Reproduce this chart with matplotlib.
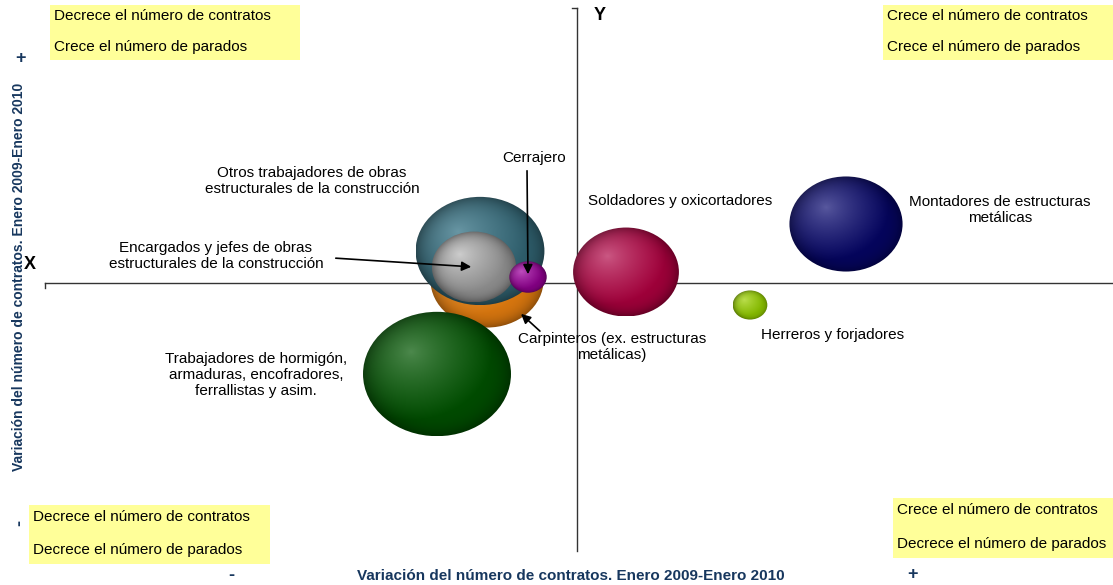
import matplotlib
matplotlib.use("Agg")
import matplotlib.pyplot as plt
import numpy as np
from matplotlib.patches import Ellipse, Rectangle
from matplotlib.colors import to_rgb

plt.rcParams['font.family'] = ['Liberation Sans', 'DejaVu Sans']

# datos: variacion de contratos (x), variacion de parados (y), tamano burbuja
ocupaciones = ["Carpinteros (ex. estructuras\nmetálicas)",
               "Otros trabajadores de obras\nestructurales de la construcción",
               "Encargados y jefes de obras\nestructurales de la construcción",
               "Cerrajero",
               "Trabajadores de hormigón,\narmaduras, encofradores,\nferrallistas y asim.",
               "Soldadores y oxicortadores",
               "Montadores de estructuras\nmetálicas",
               "Herreros y forjadores"]
var_contratos = [-9.0, -9.7, -10.3, -4.9, -14.0, 4.9, 26.9, 17.3]
var_parados = [0.3, 3.2, 1.6, 0.6, -9.1, 1.1, 5.9, -2.2]
tamanos = [128, 166, 71, 14, 219, 112, 128, 12]

colores_base = ["#d9770f", "#2f5f6d", "#8c8c8c", "#820082", "#004c00",
                "#a0003a", "#05055e", "#84b800"]
colores_luz = ["#f0a850", "#6a98a6", "#cfcfcf", "#c050c0", "#4e8a4e",
               "#cc5a85", "#5a5aa0", "#bde050"]

W, H = 1113, 585
fig = plt.figure(figsize=(W / 100, H / 100), dpi=100)
ax = fig.add_axes([0, 0, 1, 1])
ax.set_xlim(-57.7, 53.6)
ax.set_ylim(-30.2, 28.3)
ax.axis('off')


def P(px, py):
    # posicion en pixeles -> coordenadas de datos
    return ((px - 577) / 10, (283 - py) / 10)


def F(px, py):
    return (px / W, 1 - py / H)


# ejes cruzados
ax.plot([P(45, 0)[0], P(1113, 0)[0]], [0, 0], color="#333333", lw=1, zorder=1)
ax.plot([0, 0], [P(0, 8)[1], P(0, 551)[1]], color="#333333", lw=1, zorder=1)
ax.plot([P(572, 0)[0], 0], [P(0, 8)[1]] * 2, color="#333333", lw=1)
ax.plot([P(45, 0)[0]] * 2, [0, P(0, 288)[1]], color="#333333", lw=1)

# burbujas con degradado
n = 200
u, v = np.meshgrid(np.linspace(-1, 1, n), np.linspace(1, -1, n))
r = np.sqrt(u ** 2 + v ** 2)
d = np.clip(np.sqrt((u + 0.35) ** 2 + (v - 0.35) ** 2) / 1.1, 0, 1)
for i in range(len(ocupaciones)):
    w = np.sqrt(tamanos[i])
    h = w / 1.19
    x, y = var_contratos[i], var_parados[i]
    base = np.array(to_rgb(colores_base[i]))
    luz = np.array(to_rgb(colores_luz[i]))
    t = d[..., None] ** 0.8
    img = luz * (1 - t) + base * t
    img = img * (1 - 0.35 * np.clip(r, 0, 1)[..., None] ** 6)
    e = Ellipse((x, y), w, h, facecolor="none", edgecolor="none")
    ax.add_patch(e)
    im = ax.imshow(np.clip(img, 0, 1), extent=[x - w / 2, x + w / 2, y - h / 2, y + h / 2],
                   aspect='auto', interpolation='bilinear', zorder=2 + i)
    im.set_clip_path(e)

ax.set_xlim(-57.7, 53.6)
ax.set_ylim(-30.2, 28.3)

# etiquetas
fs = 11
ls = 1.15
flecha = dict(arrowstyle="-|>", color="black", lw=1.2, mutation_scale=14)
ax.text(*P(534, 158), "Cerrajero", fontsize=fs, ha='center', va='center', zorder=20)
ax.annotate("", xy=(var_contratos[3], var_parados[3]), xytext=P(527, 168),
            arrowprops=flecha, zorder=20)
ax.text(*P(312, 181), ocupaciones[1], fontsize=fs, ha='center', va='center',
        linespacing=ls, zorder=20)
ax.text(*P(216, 256), ocupaciones[2], fontsize=fs, ha='center', va='center',
        linespacing=ls, zorder=20)
ax.annotate("", xy=(var_contratos[2], var_parados[2]), xytext=P(333, 258),
            arrowprops=flecha, zorder=20)
ax.text(*P(612, 347), ocupaciones[0], fontsize=fs, ha='center', va='center',
        linespacing=ls, zorder=20)
ax.annotate("", xy=P(519, 312), xytext=P(542, 333),
            arrowprops=flecha, zorder=20)
ax.text(*P(680, 201), ocupaciones[5], fontsize=fs, ha='center', va='center', zorder=20)
ax.text(*P(1000, 210), ocupaciones[6], fontsize=fs, ha='center', va='center',
        linespacing=ls, zorder=20)
ax.text(*P(833, 335), ocupaciones[7], fontsize=fs, ha='center', va='center', zorder=20)
ax.text(*P(256, 375), ocupaciones[4], fontsize=fs, ha='center', va='center',
        linespacing=1.2, zorder=20)

ax.text(*P(30, 265), "X", fontsize=13, fontweight='bold', ha='center', va='center')
ax.text(*P(600, 16), "Y", fontsize=13, fontweight='bold', ha='center', va='center')

# cuadros amarillos
cuadros = [(50, 5, 250, 55, "Decrece el número de contratos", "Crece el número de parados"),
           (883, 5, 230, 55, "Crece el número de contratos", "Crece el número de parados"),
           (29, 505, 241, 59, "Decrece el número de contratos", "Decrece el número de parados"),
           (893, 498, 220, 60, "Crece el número de contratos", "Decrece el número de parados")]
for x0, y0, cw, ch, t1, t2 in cuadros:
    fig.patches.append(Rectangle(F(x0, y0 + ch), cw / W, ch / H, transform=fig.transFigure,
                                 facecolor="#ffff99", edgecolor="none", zorder=0))
    fig.text(*F(x0 + 4, y0 + ch * 0.2), t1, fontsize=fs, va='center', ha='left')
    fig.text(*F(x0 + 4, y0 + ch * 0.76), t2, fontsize=fs, va='center', ha='left')

# titulos de ejes
azul = "#17375e"
fig.text(*F(571, 576), "Variación del número de contratos. Enero 2009-Enero 2010",
         fontsize=11, fontweight='bold', color=azul, ha='center', va='center')
fig.text(*F(19, 277), "Variación del número de contratos. Enero 2009-Enero 2010",
         fontsize=10, fontweight='bold', color=azul, ha='center', va='center', rotation=90)
fig.text(*F(20, 58), "+", fontsize=13, fontweight='bold', color=azul, ha='center', va='center')
fig.text(*F(20, 523), "-", fontsize=13, fontweight='bold', color=azul, ha='center', va='center',
         rotation=90)
fig.text(*F(231, 575), "-", fontsize=13, fontweight='bold', color=azul, ha='center', va='center')
fig.text(*F(912, 575), "+", fontsize=13, fontweight='bold', color=azul, ha='center', va='center')

fig.savefig("out.png", dpi=100)
